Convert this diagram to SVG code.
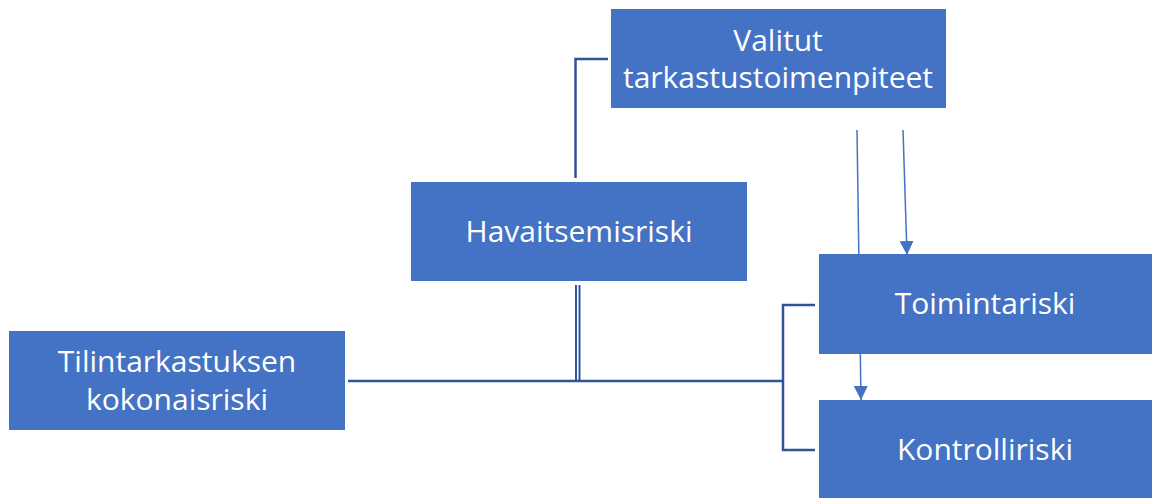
<svg xmlns="http://www.w3.org/2000/svg" width="1152" height="498" viewBox="0 0 1152 498">
<style>
.box{fill:#4472C4;}
.t{fill:#FFFFFF;font-family:"Open Sans","Liberation Sans",sans-serif;font-size:30px;text-anchor:middle;}
.c{fill:none;stroke:#2F5597;stroke-width:2.5;}
.d{fill:none;stroke:#2F5597;stroke-width:2;}
.a{fill:none;stroke:#4472C4;stroke-width:1.5;}
</style>
<defs>
<marker id="ah" viewBox="0 0 10 10" refX="10" refY="5" markerWidth="14" markerHeight="14" markerUnits="userSpaceOnUse" orient="auto">
<path d="M0,0 L10,5 L0,10 Z" fill="#4472C4"/>
</marker>
</defs>
<rect width="1152" height="498" fill="#FFFFFF"/>
<g id="connectors">
<path class="c" d="M608,59 H575.5 V178"/>
<line class="d" x1="576" y1="285" x2="576" y2="381"/>
<line class="d" x1="579.5" y1="285" x2="579.5" y2="381"/>
<line class="c" x1="348" y1="381" x2="783" y2="381"/>
<path class="c" d="M815,305 H783 V450 H815"/>
<line class="a" x1="857" y1="130" x2="861" y2="400" marker-end="url(#ah)"/>
<line class="a" x1="903" y1="130" x2="907" y2="255" marker-end="url(#ah)"/>
</g>
<g id="valitut">
<rect class="box" x="611" y="9" width="335" height="99"/>
<text class="t" x="778" y="51">Valitut</text>
<text class="t" x="778" y="88">tarkastustoimenpiteet</text>
</g>
<g id="havaitsemisriski">
<rect class="box" x="411" y="182" width="336" height="99"/>
<text class="t" x="579" y="242">Havaitsemisriski</text>
</g>
<g id="kokonaisriski">
<rect class="box" x="9" y="331" width="336" height="99"/>
<text class="t" x="177" y="372">Tilintarkastuksen</text>
<text class="t" x="177" y="410">kokonaisriski</text>
</g>
<g id="toimintariski">
<rect class="box" x="819" y="254" width="333" height="100"/>
<text class="t" x="985" y="314">Toimintariski</text>
</g>
<g id="kontrolliriski">
<rect class="box" x="819" y="400" width="333" height="98"/>
<text class="t" x="985" y="460">Kontrolliriski</text>
</g>
</svg>
